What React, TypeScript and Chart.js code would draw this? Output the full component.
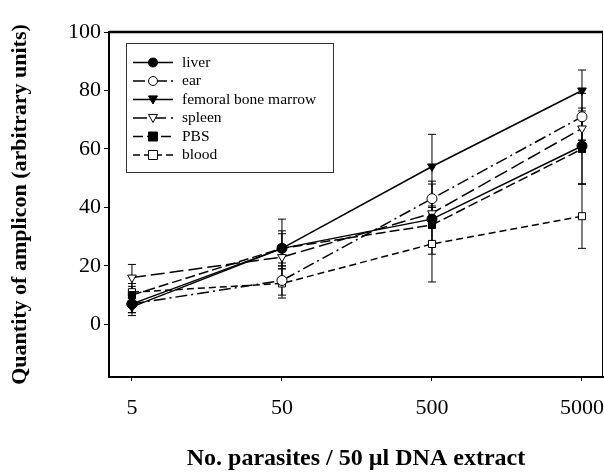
import React, { useEffect, useRef } from "react";
import { Chart, registerables } from "chart.js";

Chart.register(...registerables);

const xLabels = ["5", "50", "500", "5000"];
const xPositions = [0, 1, 2, 3];
const yTicks = [0, 20, 40, 60, 80, 100];

const seriesNames = ["liver", "ear", "femoral bone marrow", "spleen", "PBS", "blood"];
const liver = [7, 26, 36, 61];
const ear = [7, 15, 43, 71];
const femoral = [6, 26, 54, 80];
const spleen = [16, 23, 38, 67];
const pbs = [10, 26, 34, 60];
const blood = [11, 14, 27.5, 37];

const liverErr = [3, 6, 12, 13];
const earErr = [3, 5, 6, 8];
const femoralErr = [3, 10, 11, 7];
const spleenErr = [4.5, 4, 4, 4];
const pbsErr = [3, 5, 6, 12];
const bloodErr = [3, 5, 13, 11];

const seriesValues = [liver, ear, femoral, spleen, pbs, blood];
const seriesErrors = [liverErr, earErr, femoralErr, spleenErr, pbsErr, bloodErr];
const dashes: number[][] = [[], [12, 4, 2, 4], [], [14, 5], [10, 4], [7, 4]];
const pointStyles = ["circle", "circle", "triangle", "triangle", "rect", "rect"];
const rotations = [0, 0, 180, 180, 0, 0];
const filled = [true, false, true, false, true, false];

const SERIF = "'Liberation Serif', 'Times New Roman', serif";

const errorBarPlugin = {
  id: "errorBars",
  beforeDatasetsDraw(chart: any) {
    const ctx = chart.ctx;
    const xs = chart.scales.x;
    const ys = chart.scales.y;
    ctx.save();
    ctx.strokeStyle = "#000";
    ctx.lineWidth = 1;
    ctx.setLineDash([]);
    seriesValues.forEach((vals, si) => {
      vals.forEach((v, i) => {
        const e = seriesErrors[si][i];
        const px = xs.getPixelForValue(xPositions[i]);
        const top = ys.getPixelForValue(v + e);
        const bot = ys.getPixelForValue(v - e);
        ctx.beginPath();
        ctx.moveTo(px, top);
        ctx.lineTo(px, bot);
        ctx.moveTo(px - 4, top);
        ctx.lineTo(px + 4, top);
        ctx.moveTo(px - 4, bot);
        ctx.lineTo(px + 4, bot);
        ctx.stroke();
      });
    });
    ctx.restore();
  },
  afterDraw(chart: any) {
    const ctx = chart.ctx;
    const a = chart.chartArea;
    ctx.save();
    ctx.setLineDash([]);
    ctx.strokeStyle = "#000";
    // frame
    ctx.lineWidth = 2.5;
    ctx.beginPath();
    ctx.moveTo(a.left, a.top);
    ctx.lineTo(a.right, a.top);
    ctx.stroke();
    ctx.lineWidth = 1;
    ctx.beginPath();
    ctx.moveTo(a.right - 0.5, a.top);
    ctx.lineTo(a.right - 0.5, a.bottom);
    ctx.stroke();
    // legend
    const bx = 126, by = 43, bw = 207, bh = 129;
    ctx.fillStyle = "#fff";
    ctx.fillRect(bx, by, bw, bh);
    ctx.strokeStyle = "#333";
    ctx.lineWidth = 1;
    ctx.strokeRect(bx + 0.5, by + 0.5, bw, bh);
    ctx.font = `15.5px ${SERIF}`;
    ctx.textBaseline = "middle";
    ctx.textAlign = "left";
    seriesNames.forEach((name, i) => {
      const y = 62.5 + i * 18.5;
      ctx.strokeStyle = "#000";
      ctx.lineWidth = 1.5;
      ctx.setLineDash(dashes[i]);
      ctx.beginPath();
      ctx.moveTo(133, y);
      ctx.lineTo(173, y);
      ctx.stroke();
      ctx.setLineDash([]);
      ctx.fillStyle = filled[i] ? "#000" : "#fff";
      ctx.lineWidth = 1;
      ctx.strokeStyle = "#000";
      const cx = 153;
      const r = 4.5;
      ctx.beginPath();
      if (pointStyles[i] === "circle") {
        ctx.arc(cx, y, r, 0, Math.PI * 2);
      } else if (pointStyles[i] === "rect") {
        ctx.rect(cx - r, y - r, 2 * r, 2 * r);
      } else {
        ctx.moveTo(cx - r, y - r * 0.8);
        ctx.lineTo(cx + r, y - r * 0.8);
        ctx.lineTo(cx, y + r);
        ctx.closePath();
      }
      ctx.fill();
      ctx.stroke();
      ctx.fillStyle = "#000";
      ctx.fillText(name, 182, y);
    });
    ctx.restore();
  },
};

export default function App() {
  const ref = useRef<HTMLCanvasElement | null>(null);
  useEffect(() => {
    if (!ref.current) return;
    const datasets = seriesNames.map((name, i) => ({
      label: name,
      data: seriesValues[i].map((v, j) => ({ x: xPositions[j], y: v })),
      borderColor: "#000",
      borderWidth: 1.5,
      borderDash: dashes[i],
      backgroundColor: filled[i] ? "#000" : "#fff",
      pointBackgroundColor: filled[i] ? "#000" : "#fff",
      pointBorderColor: "#000",
      pointBorderWidth: 1,
      pointStyle: pointStyles[i],
      pointRotation: rotations[i],
      pointRadius: 5,
      tension: 0,
      fill: false,
    }));
    const chart = new Chart(ref.current, {
      type: "line",
      data: { datasets },
      plugins: [errorBarPlugin],
      options: {
        animation: false,
        responsive: false,
        layout: { autoPadding: false, padding: { top: 32, right: 1, left: 0, bottom: 0 } },
        plugins: { legend: { display: false }, tooltip: { enabled: false } },
        scales: {
          x: {
            type: "linear",
            min: -0.153,
            max: 3.14,
            afterBuildTicks: (s: any) => {
              s.ticks = xPositions.map((v) => ({ value: v }));
            },
            afterFit: (s: any) => {
              s.height = 98;
              s.paddingRight = 0;
              s.paddingLeft = 0;
            },
            ticks: {
              callback: (v: any) => {
                const idx = xPositions.indexOf(Number(v));
                return idx >= 0 ? xLabels[idx] : "";
              },
              color: "#000",
              font: { family: SERIF, size: 22 },
              padding: 14,
              maxRotation: 0,
            },
            grid: { display: true, drawOnChartArea: false, drawTicks: true, tickLength: 4, color: "#000", lineWidth: 1 },
            border: { display: true, color: "#000", width: 2 },
            title: {
              display: true,
              text: "No. parasites / 50 µl DNA extract",
              color: "#000",
              font: { family: SERIF, size: 24, weight: "bold" },
              padding: { top: 0, bottom: 2 },
            },
          },
          y: {
            type: "linear",
            min: -18,
            max: 100,
            afterBuildTicks: (s: any) => {
              s.ticks = yTicks.map((v) => ({ value: v }));
            },
            afterFit: (s: any) => {
              s.width = 109;
              s.paddingTop = 0;
              s.paddingBottom = 0;
            },
            ticks: {
              color: "#000",
              font: { family: SERIF, size: 22 },
              padding: 3,
            },
            grid: { display: true, drawOnChartArea: false, drawTicks: true, tickLength: 5, color: "#000", lineWidth: 1 },
            border: { display: true, color: "#000", width: 2 },
            title: {
              display: true,
              text: "Quantity of amplicon (arbitrary units)",
              color: "#000",
              font: { family: SERIF, size: 22, weight: "bold" },
              padding: { top: 7, bottom: 0 },
            },
          },
        },
      },
    });
    return () => chart.destroy();
  }, []);
  return (
    <div style={{ position: "fixed", left: 0, top: 0, width: 604, height: 475, background: "#fff" }}>
      <canvas ref={ref} width={604} height={475} />
    </div>
  );
}
